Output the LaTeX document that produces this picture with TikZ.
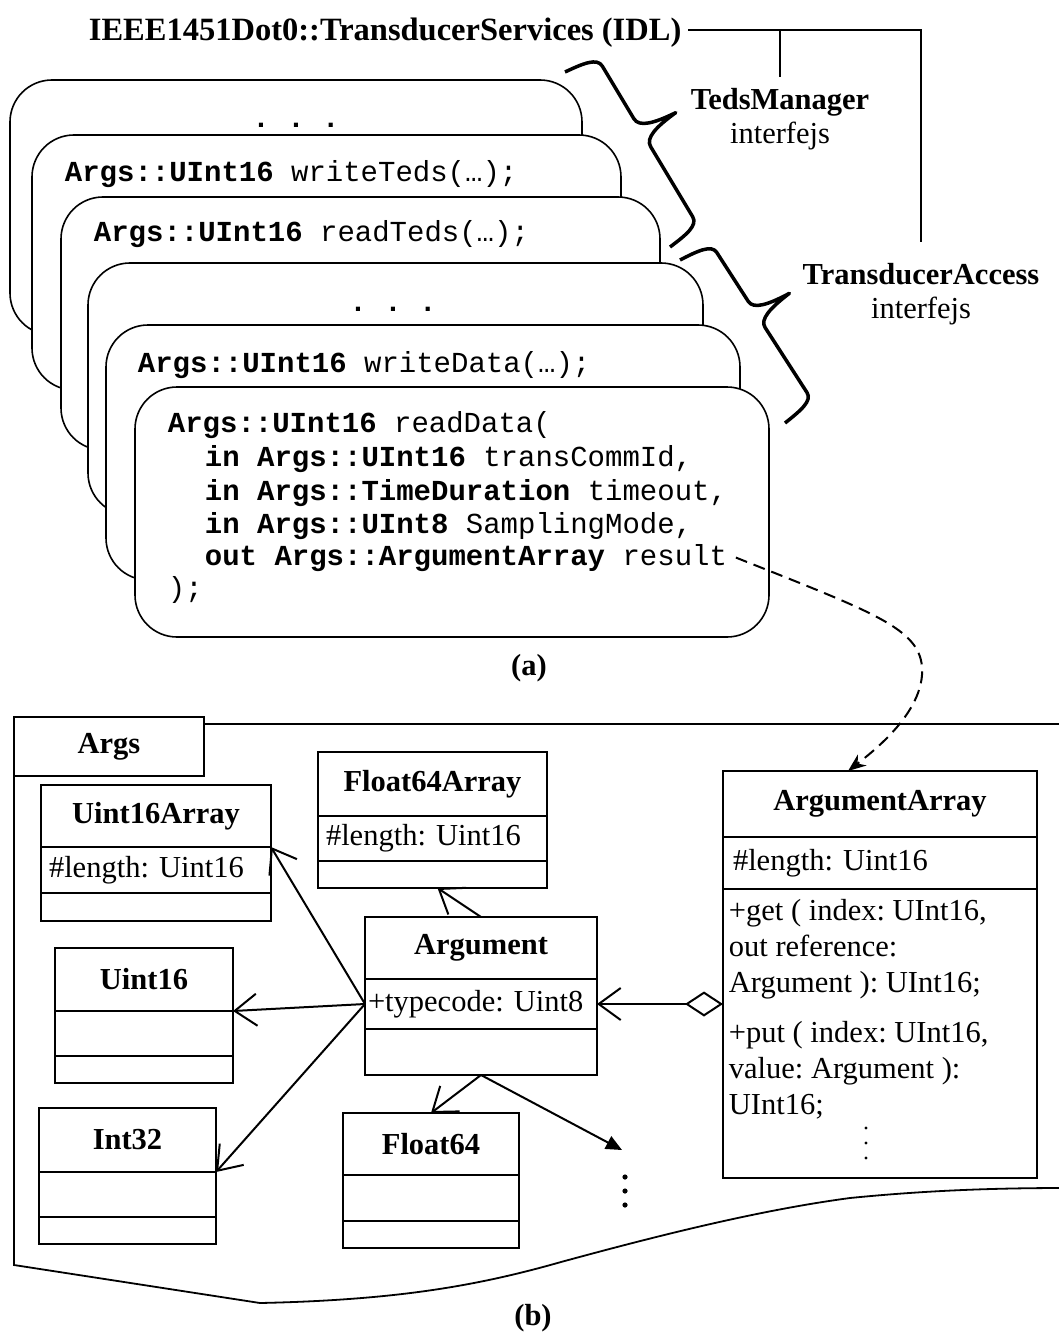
\documentclass[tikz,border=0pt]{standalone}
\usepackage{fontspec}
\setmainfont{Liberation Serif}
\setmonofont{Liberation Mono}
\usepackage{tikz}
\usetikzlibrary{positioning, arrows.meta}
\newcommand\umlfont{\fontsize{30.5}{34}\selectfont\frenchspacing}
\newcommand\idlfont{\fontsize{29}{33}\selectfont\ttfamily}

\begin{document}
\begin{tikzpicture}[x=1pt, y=-1pt, line width=1.8pt,
    stackbox/.style={draw, fill=white, rounded corners=42pt, line width=1.6pt},
    idl/.style={font=\idlfont, anchor=base west, inner sep=0pt},
    txt/.style={font=\umlfont, inner sep=0pt},
    ifacebrace/.style={line width=3.5pt, line join=round},
    umlbox/.style={draw, fill=white, line width=1.8pt, inner sep=0pt, outer sep=0pt},
    umlhead/.style={umlbox, font=\umlfont\bfseries},
    umlattr/.style={umlbox, font=\umlfont, align=left, inner xsep=8pt},
    assoc/.style={-{Straight Barb[length=22pt, width=32pt]}, line width=2pt}]

    \useasboundingbox (0,0) rectangle (1059,1332);

    % Titre et interfaces
    \node[txt, font=\fontsize{32.5}{36}\selectfont\bfseries, anchor=base west] (idlhead) at (88,41) {IEEE1451Dot0::TransducerServices (IDL)};
    \node[txt, align=center, anchor=north] (tm) at (780,87) {\textbf{TedsManager}\\interfejs};
    \node[txt, align=center, anchor=north] (ta) at (921,262) {\textbf{TransducerAccess}\\interfejs};
    \coordinate (bar) at ([xshift=6pt, yshift=3pt]idlhead.east);
    \draw[line width=1.6pt] (bar) -| ([yshift=20pt]ta.north);
    \draw[line width=1.6pt] ([yshift=10pt]tm.north) -- (tm.north |- bar);

    % Pile des operations (a)
    \draw[stackbox] (10,80) rectangle (582,335);
    \node[idl, font=\idlfont\bfseries, anchor=base] (dots1) at (296,128) {. . .};
    \draw[stackbox] (32,135) rectangle (621,390);
    \node[idl] (wt) at (64,182) {\textbf{Args::UInt16} writeTeds(…);};
    \draw[stackbox] (61,197) rectangle (660,450);
    \node[idl] (rt) at (93,242) {\textbf{Args::UInt16} readTeds(…);};
    \draw[stackbox] (88,263) rectangle (703,515);
    \node[idl, font=\idlfont\bfseries, anchor=base] (dots2) at (393,311) {. . .};
    \draw[stackbox] (106,325) rectangle (740,580);
    \node[idl] (wd) at (137,372) {\textbf{Args::UInt16} writeData(…);};
    \draw[stackbox] (135,387) rectangle (769,637);
    \node[idl] (rd0) at (167,432) {\textbf{Args::UInt16} readData(};
    \node[idl] (rd1) at (204,466) {\textbf{in Args::UInt16} transCommId,};
    \node[idl] (rd2) at (204,500) {\textbf{in Args::TimeDuration} timeout,};
    \node[idl] (rd3) at (204,533) {\textbf{in Args::UInt8} SamplingMode,};
    \node[idl] (rd4) at (204,565) {\textbf{out Args::ArgumentArray} result};
    \node[idl] (rd5) at (167,597) {);};

    % Accolades des interfaces
    \begin{scope}[shift={(565,72)}, x={(105pt,-175pt)}, y={(0.858pt,0.515pt)}]
        \draw[ifacebrace] (0,0) .. controls (0.01,20) and (0.02,35) .. (0.07,35) -- (0.37,35)
            .. controls (0.42,35) and (0.44,50) .. (0.45,74) .. controls (0.46,50) and (0.48,35) .. (0.53,35)
            -- (0.93,35) .. controls (0.98,35) and (0.99,20) .. (1,0);
    \end{scope}
    \begin{scope}[shift={(680,260)}, x={(105pt,-163pt)}, y={(0.840pt,0.541pt)}]
        \draw[ifacebrace] (0,0) .. controls (0.01,20) and (0.02,35) .. (0.07,35) -- (0.37,35)
            .. controls (0.42,35) and (0.44,50) .. (0.45,74) .. controls (0.46,50) and (0.48,35) .. (0.53,35)
            -- (0.93,35) .. controls (0.98,35) and (0.99,20) .. (1,0);
    \end{scope}

    \node[txt, font=\umlfont\bfseries] (capa) at (529,668) {(a)};

    % Paquetage Args (b)
    \node[umlbox, font=\umlfont\bfseries, minimum width=190pt, minimum height=59pt] (pkg) at (109,746.5) {Args};
    \draw ([yshift=-7pt]pkg.north east) -- (1065,724);
    \draw (pkg.south west) -- (14,1265) -- (260,1303)
        .. controls (400,1300) and (480,1285) .. (561,1262)
        .. controls (660,1235) and (760,1210) .. (850,1198)
        .. controls (930,1190) and (1000,1188) .. (1065,1188);

    % Classes
    \node[umlhead, minimum width=230pt, minimum height=62pt] (u16a) at (156,816) {Uint16Array};
    \node[umlattr, below=0pt of u16a, text width=214pt, minimum height=46pt] (u16a-a) {\#length: Uint16};
    \node[umlbox, below=0pt of u16a-a, minimum width=230pt, minimum height=28pt] (u16a-o) {};

    \node[umlhead, minimum width=229pt, minimum height=64pt] (f64a) at (432.5,784) {Float64Array};
    \node[umlattr, below=0pt of f64a, text width=213pt, minimum height=45pt] (f64a-a) {\#length: Uint16};
    \node[umlbox, below=0pt of f64a-a, minimum width=229pt, minimum height=27pt] (f64a-o) {};

    \node[umlhead, minimum width=232pt, minimum height=62pt] (arg) at (481,948) {Argument};
    \node[umlattr, inner xsep=3pt, below=0pt of arg, text width=226pt, minimum height=50pt] (arg-a) {+typecode: Uint8};
    \node[umlbox, below=0pt of arg-a, minimum width=232pt, minimum height=46pt] (arg-o) {};

    \node[umlhead, minimum width=178pt, minimum height=63pt] (u16) at (144,979.5) {Uint16};
    \node[umlbox, below=0pt of u16, minimum width=178pt, minimum height=45pt] (u16-a) {};
    \node[umlbox, below=0pt of u16-a, minimum width=178pt, minimum height=27pt] (u16-o) {};

    \node[umlhead, minimum width=177pt, minimum height=64pt] (i32) at (127.5,1140) {Int32};
    \node[umlbox, below=0pt of i32, minimum width=177pt, minimum height=45pt] (i32-a) {};
    \node[umlbox, below=0pt of i32-a, minimum width=177pt, minimum height=27pt] (i32-o) {};

    \node[umlhead, minimum width=176pt, minimum height=62pt] (f64) at (431,1144) {Float64};
    \node[umlbox, below=0pt of f64, minimum width=176pt, minimum height=46pt] (f64-a) {};
    \node[umlbox, below=0pt of f64-a, minimum width=176pt, minimum height=27pt] (f64-o) {};

    \node[umlhead, minimum width=314pt, minimum height=66pt] (aa) at (880,804) {ArgumentArray};
    \node[umlattr, inner xsep=10pt, below=0pt of aa, text width=294pt, minimum height=52pt] (aa-a) {\#length: Uint16};
    \node[umlbox, below=0pt of aa-a, minimum width=314pt, minimum height=289pt] (aa-o) {};
    \node[txt, anchor=north west, align=left, font=\umlfont\fontsize{30.5}{36}\selectfont] (aa-ops) at ([xshift=5pt, yshift=-9pt]aa-o.north west)
        {+get ( index: UInt16,\\out reference:\\Argument ): UInt16;\\[14pt]+put ( index: UInt16,\\value: Argument ):\\UInt16;};
    \foreach \k in {0,1,2}
        \fill (866,1128+15*\k) circle (1.6pt);

    % Associations
    \draw[assoc] (arg-a.west) -- (u16a.south east);
    \draw[assoc] (arg-a.west) -- (u16.south east);
    \draw[assoc] (arg-a.west) -- (i32.south east);
    \draw[assoc] (arg.north) -- ([xshift=5pt]f64a-o.south);
    \draw[assoc] (arg-o.south) -- (f64.north);
    \coordinate (more) at (622,1150);
    \draw[-{Triangle[length=16pt, width=14pt]}, line width=2pt] (arg-o.south) -- (more);
    \foreach \k in {0,1,2}
        \fill (625,1177+14*\k) circle (2.6pt);
    \draw[{Diamond[open, length=38pt, width=25pt]}-{Straight Barb[length=22pt, width=32pt]}, line width=2pt]
        (aa-o.west |- arg-a.east) -- (arg-a.east);

    % Lien vers ArgumentArray
    \draw[dash pattern=on 12pt off 7pt, line width=2pt, -{Stealth[length=18pt, width=14pt]}]
        ([xshift=8pt]rd4.east) .. controls (880,615) and (925,630) .. (922,675)
        .. controls (919,715) and (875,750) .. ([xshift=-32pt]aa.north);

    \node[txt, font=\umlfont\bfseries] (capb) at (533,1318) {(b)};

\end{tikzpicture}
\end{document}
